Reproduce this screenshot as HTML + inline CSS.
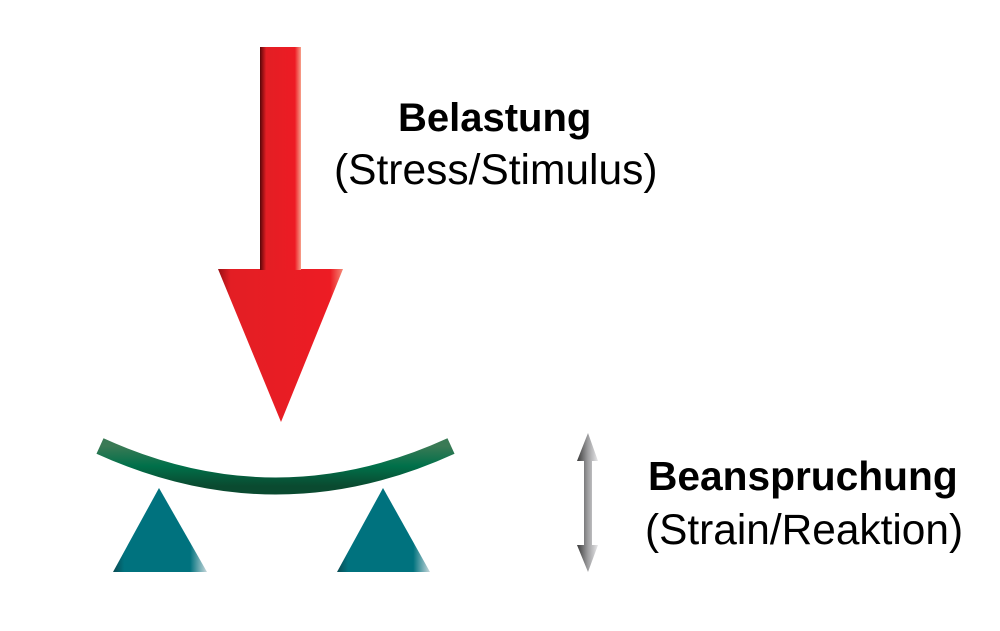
<!DOCTYPE html>
<html><head><meta charset="utf-8"><style>
html,body{margin:0;padding:0;background:#fff;}
svg{display:block;}
</style></head><body>
<svg width="1000" height="631" viewBox="0 0 1000 631" xmlns="http://www.w3.org/2000/svg">
<defs>
<linearGradient id="rs" x1="0" x2="1" y1="0" y2="0">
<stop offset="0" stop-color="#5a0608"/><stop offset="0.15" stop-color="#e31e24"/><stop offset="0.85" stop-color="#ed1c24"/><stop offset="1" stop-color="#f7a08a"/>
</linearGradient>
<linearGradient id="rh" x1="0" x2="1" y1="0" y2="0">
<stop offset="0" stop-color="#9a1014"/><stop offset="0.1" stop-color="#e31e24"/><stop offset="0.9" stop-color="#ed1c24"/><stop offset="1" stop-color="#f48a78"/>
</linearGradient>
<linearGradient id="gr" x1="0" x2="1" y1="0" y2="0">
<stop offset="0" stop-color="#3a3a3a"/><stop offset="0.5" stop-color="#9a9a9c"/><stop offset="1" stop-color="#e8e8ea"/>
</linearGradient>
<linearGradient id="tr" x1="0" x2="1" y1="0" y2="0">
<stop offset="0" stop-color="#0a4a52"/><stop offset="0.12" stop-color="#00727e"/><stop offset="0.82" stop-color="#00727e"/><stop offset="1" stop-color="#c8d8dc"/>
</linearGradient>
<linearGradient id="gb" x1="0" x2="0" y1="0" y2="1">
<stop offset="0" stop-color="#3a7a55"/><stop offset="0.5" stop-color="#00704a"/><stop offset="1" stop-color="#0a4a30"/>
</linearGradient>
</defs>
<polygon points="218,269 343,269 281,422" fill="url(#rh)"/>
<rect x="260" y="47" width="41" height="223" fill="url(#rs)"/>
<path d="M100,446 Q276,526 451,446" fill="none" stroke="url(#gb)" stroke-width="17"/>
<polygon points="159,488 207,572 113,572" fill="url(#tr)"/>
<polygon points="383,488 430,572 337,572" fill="url(#tr)"/>
<polygon points="588,433 598,461 592,461 592,545 598,545 588,572 577,545 584,545 584,461 577,461" fill="url(#gr)"/>
<g font-family="Liberation Sans, Arial, sans-serif" fill="#000">
<text x="398" y="131" font-size="40" font-weight="bold">Belastung</text>
<text x="334" y="184" font-size="42.5">(Stress/Stimulus)</text>
<text x="648" y="490" font-size="40.7" font-weight="bold">Beanspruchung</text>
<text x="645" y="544" font-size="42.4">(Strain/Reaktion)</text>
</g>
</svg>
</body></html>
